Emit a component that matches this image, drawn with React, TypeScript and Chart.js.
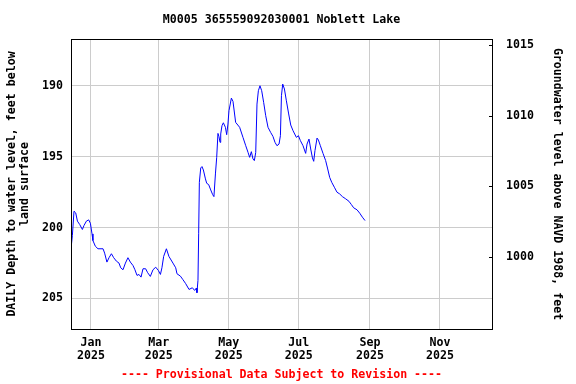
import React, { useEffect, useRef } from "react";
import { Chart, registerables } from "chart.js";

Chart.register(...registerables);

const FONT = "'DejaVu Sans Mono', 'Liberation Mono', monospace";

const titleText = "M0005 365559092030001 Noblett Lake";
const footerText = "---- Provisional Data Subject to Revision ----";
const leftAxisTitle = ["DAILY Depth to water level, feet below", "land surface"];
const rightAxisTitle = "Groundwater level above NAVD 1988, feet";

// days since 2025-01-01
const days = [
  -17.1, -16.2, -14.8, -13.3, -11.8, -9.8, -7.5, -6.1, -4.0, -2.0,
  -0.5, 0.9, 1.7, 3.8, 6.1, 10.5, 11.9, 13.9, 15.7, 17.8,
  19.8, 22.1, 24.4, 25.9, 27.9, 30.0, 32.2, 34.3, 36.6, 38.3,
  40.1, 41.8, 43.6, 45.3, 47.6, 49.4, 51.7, 54.0, 56.4, 58.7,
  60.5, 61.8, 63.3, 65.7, 67.9, 71.4, 73.8, 74.9, 77.9, 80.1,
  82.5, 85.4, 88.3, 90.3, 91.8, 92.3, 93.2, 93.8, 94.4, 95.6,
  96.7, 97.9, 99.7, 100.8, 102.5, 104.3, 106.0, 107.1, 108.4, 109.5,
  110.6, 111.5, 112.4, 113.0, 114.1, 115.3, 117.1, 118.2, 119.3, 120.2,
  122.3, 123.7, 126.0, 129.5, 132.4, 134.8, 136.8, 138.2, 139.7, 141.1,
  142.3, 143.5, 144.6, 145.8, 147.2, 148.7, 150.4, 152.2, 154.2, 156.5,
  158.5, 160.3, 162.0, 163.8, 165.0, 165.9, 167.0, 168.5, 170.2, 172.2,
  174.0, 176.0, 178.9, 180.7, 182.4, 184.7, 187.0, 188.2, 189.9, 191.4,
  192.9, 194.0, 195.1, 196.9, 198.1, 199.8, 202.1, 204.4, 206.2, 207.9,
  209.7, 212.0, 214.3, 216.6, 219.0, 221.9, 224.7, 226.8, 228.8, 231.7,
  234.1, 236.4, 238.7,
];

// depth to water, feet below land surface
const depths = [
  201.27, 200.56, 198.85, 198.97, 199.55, 199.79, 200.14, 199.86, 199.55, 199.46,
  199.70, 200.45, 200.92, 201.32, 201.50, 201.50, 201.81, 202.44, 202.13, 201.85,
  202.13, 202.37, 202.51, 202.84, 202.98, 202.51, 202.13, 202.44, 202.68, 202.98,
  203.38, 203.31, 203.50, 202.91, 202.91, 203.19, 203.45, 202.98, 202.80, 203.03,
  203.31, 202.84, 202.04, 201.50, 202.04, 202.51, 202.84, 203.26, 203.43, 203.68,
  203.96, 204.37, 204.25, 204.44, 204.27, 204.60, 203.73, 200.44, 196.81, 195.80,
  195.70, 195.94, 196.57, 196.88, 196.97, 197.35, 197.68, 197.82, 196.22, 195.05,
  193.36, 193.59, 193.99, 193.40, 192.82, 192.61, 192.93, 193.45, 192.70, 191.76,
  190.87, 191.10, 192.58, 192.93, 193.64, 194.23, 194.70, 195.05, 194.65, 195.16,
  195.28, 194.70, 191.29, 190.35, 190.00, 190.35, 191.17, 192.11, 192.93, 193.29,
  193.57, 193.99, 194.23, 194.11, 193.52, 190.70, 189.88, 190.23, 191.06, 191.99,
  192.77, 193.17, 193.64, 193.52, 193.87, 194.23, 194.77, 194.11, 193.76, 194.46,
  195.09, 195.33, 194.58, 193.69, 193.83, 194.23, 194.77, 195.28, 195.87, 196.46,
  196.81, 197.16, 197.51, 197.63, 197.82, 197.98, 198.15, 198.38, 198.61, 198.75,
  198.99, 199.27, 199.51,
];

const xTickDays = [0, 59, 120, 181, 243, 304];
const xTickLabels = [
  ["Jan", "2025"], ["Mar", "2025"], ["May", "2025"],
  ["Jul", "2025"], ["Sep", "2025"], ["Nov", "2025"],
];
const xMin = -17.4;
const xMax = 349.3;

const depthTicks = [190, 195, 200, 205];
const depthMin = 186.7;
const depthMax = 207.16;

const elevTicks = [1000, 1005, 1010, 1015];
const datumOffset = 1202.1; // elevation = datumOffset - depth

const tickFont = { family: FONT, size: 11.6, weight: "bold" as const, lineHeight: 1.15 };

const framePlugin = {
  id: "framePlugin",
  afterDraw(chart: any) {
    const { ctx, chartArea } = chart;
    const { left, top, right, bottom } = chartArea;
    ctx.save();
    ctx.strokeStyle = "#000";
    ctx.lineWidth = 1;
    ctx.strokeRect(left + 0.5, top + 0.5, right - left, bottom - top);
    // inner ticks on the right axis
    const y2 = chart.scales.y2;
    ctx.beginPath();
    for (const v of elevTicks) {
      const py = Math.round(y2.getPixelForValue(v)) + 0.5;
      ctx.moveTo(right - 3, py);
      ctx.lineTo(right + 0.5, py);
    }
    ctx.stroke();
    // title and footer
    ctx.font = `bold 11.6px ${FONT}`;
    ctx.textAlign = "center";
    ctx.textBaseline = "middle";
    ctx.fillStyle = "#000";
    const cx = (left + right) / 2;
    ctx.fillText(titleText, cx, 20);
    ctx.fillStyle = "#ff0000";
    ctx.fillText(footerText, cx, 375);
    ctx.restore();
  },
};

export default function App() {
  const ref = useRef<HTMLCanvasElement | null>(null);

  useEffect(() => {
    if (!ref.current) return;
    const chart = new Chart(ref.current, {
      type: "line",
      data: {
        datasets: [
          {
            data: days.map((d, i) => ({ x: d, y: depths[i] })),
            borderColor: "#0000ff",
            borderWidth: 1,
            pointRadius: 0,
            tension: 0,
            fill: false,
            yAxisID: "y",
          },
        ],
      },
      options: {
        animation: false,
        responsive: true,
        maintainAspectRatio: false,
        layout: { padding: { top: 39, left: 0, right: 0, bottom: 0 } },
        plugins: {
          legend: { display: false },
          title: { display: false },
          tooltip: { enabled: false },
        },
        scales: {
          x: {
            type: "linear",
            min: xMin,
            max: xMax,
            afterBuildTicks(scale: any) {
              scale.ticks = xTickDays.map((v) => ({ value: v }));
            },
            afterFit(scale: any) {
              scale.height = 55;
            },
            grid: { color: "#cccccc", drawTicks: false, lineWidth: 1 },
            border: { display: false },
            ticks: {
              padding: 7,
              maxRotation: 0,
              autoSkip: false,
              color: "#000",
              font: tickFont,
              callback: (_v: any, i: number) => xTickLabels[i],
            },
          },
          y: {
            type: "linear",
            position: "left",
            reverse: true,
            min: depthMin,
            max: depthMax,
            afterBuildTicks(scale: any) {
              scale.ticks = depthTicks.map((v) => ({ value: v }));
            },
            afterFit(scale: any) {
              scale.width = 71;
            },
            grid: { color: "#cccccc", drawTicks: false, lineWidth: 1 },
            border: { display: false },
            ticks: {
              padding: 8,
              color: "#000",
              font: tickFont,
              callback: (v: any) => String(v),
            },
            title: {
              display: true,
              text: leftAxisTitle,
              color: "#000",
              font: tickFont,
              padding: { top: 5, bottom: 0 },
            },
          },
          y2: {
            type: "linear",
            position: "right",
            min: datumOffset - depthMax,
            max: datumOffset - depthMin,
            afterBuildTicks(scale: any) {
              scale.ticks = elevTicks.map((v) => ({ value: v }));
            },
            afterFit(scale: any) {
              scale.width = 84;
            },
            grid: { display: false, drawTicks: false },
            border: { display: false },
            ticks: {
              padding: 14,
              color: "#000",
              font: tickFont,
              callback: (v: any) => String(v),
            },
            title: {
              display: true,
              text: rightAxisTitle,
              color: "#000",
              font: tickFont,
              padding: { top: 12, bottom: 0 },
            },
          },
        },
      },
      plugins: [framePlugin],
    } as any);
    return () => chart.destroy();
  }, []);

  return (
    <div style={{ position: "fixed", left: 0, top: 0, width: 576, height: 384, background: "#fff" }}>
      <canvas ref={ref} />
    </div>
  );
}
